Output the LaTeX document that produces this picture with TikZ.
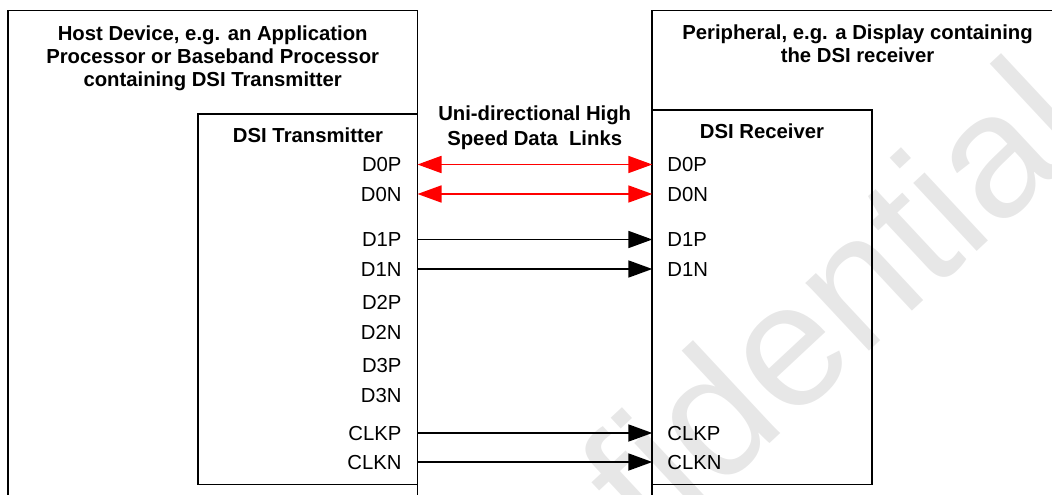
\documentclass[tikz,border=0pt]{standalone}
\usepackage{fontspec}
\setmainfont{Liberation Sans}
\usetikzlibrary{arrows.meta}
\definecolor{wmgray}{RGB}{231,231,231}
\definecolor{linkred}{RGB}{255,0,0}

\begin{document}
\begin{tikzpicture}[x=1pt,y=-1pt,
  frame/.style={draw=black,line width=1.7pt,inner sep=0pt,outer sep=0pt},
  title/.style={font=\bfseries\fontsize{20.3}{22.7}\selectfont,align=center,inner sep=0pt},
  pin/.style={font=\fontsize{20.3}{22.7}\selectfont,inner sep=0pt,text height=14.5pt,text depth=0pt},
  link/.style={line width=1.8pt,-{Triangle[length=24pt,width=17pt]}},
  redlink/.style={line width=1.8pt,draw=linkred,
    {Triangle[length=24pt,width=17pt]}-{Triangle[length=24pt,width=17pt]}},
  wmark/.style={text=wmgray,font=\fontsize{176}{176}\selectfont,inner sep=0pt}]

\useasboundingbox (0,0) rectangle (1052,495);

% background marking
\begin{scope}
  \clip (0,0) rectangle (1052,495);
  \node[wmark,anchor=base west,rotate=43] (mark) at (417,773) {Confidential};
\end{scope}

% enclosing devices (open towards the bottom)
\draw[frame] (8,497) -- (8,10.5) -- (417.5,10.5) -- (417.5,497);
\draw[frame] (652.3,497) -- (652.3,10.5) -- (1054,10.5);

% transmitter and receiver blocks
\node[frame,anchor=north west,minimum width=219.2pt,minimum height=370.5pt] (tx) at (198.3,114) {};
\node[frame,anchor=north west,minimum width=219.7pt,minimum height=374.5pt] (rx) at (652.3,110) {};

% titles (base anchor sits on the last line)
\node[title,anchor=base] (host) at (212.7,86)
  {Host Device, e.g. an Application\\Processor or Baseband Processor\\containing DSI Transmitter};
\node[title,anchor=base] (periph) at (857.5,62.5)
  {Peripheral, e.g. a Display containing\\the DSI receiver};
\node[title,anchor=base] (txname) at (308,142.7) {DSI Transmitter};
\node[title,anchor=base] (rxname) at (762,138.3) {DSI Receiver};
\node[title,anchor=base,font=\bfseries\fontsize{20.3}{24.3}\selectfont] (links) at (534.7,145)
  {Uni-directional High\\Speed Data\ \ Links};

% transmitter pins
\node[pin,anchor=east] (tD0P) at (401.7,164.5) {D0P};
\node[pin,anchor=east] (tD0N) at (401.7,194) {D0N};
\node[pin,anchor=east] (tD1P) at (401.7,239.5) {D1P};
\node[pin,anchor=east] (tD1N) at (401.7,269) {D1N};
\node[pin,anchor=east] (tD2P) at (401.7,302) {D2P};
\node[pin,anchor=east] (tD2N) at (401.7,332) {D2N};
\node[pin,anchor=east] (tD3P) at (401.7,365) {D3P};
\node[pin,anchor=east] (tD3N) at (401.7,395) {D3N};
\node[pin,anchor=east] (tCLKP) at (401.7,433) {CLKP};
\node[pin,anchor=east] (tCLKN) at (401.7,462) {CLKN};

% receiver pins
\node[pin,anchor=west] (rD0P) at (667.2,164.5) {D0P};
\node[pin,anchor=west] (rD0N) at (667.2,194) {D0N};
\node[pin,anchor=west] (rD1P) at (667.2,239.5) {D1P};
\node[pin,anchor=west] (rD1N) at (667.2,269) {D1N};
\node[pin,anchor=west] (rCLKP) at (667.2,433) {CLKP};
\node[pin,anchor=west] (rCLKN) at (667.2,462) {CLKN};

% links
\draw[redlink] (tx.east |- tD0P) -- (rx.west |- rD0P);
\draw[redlink] (tx.east |- tD0N) -- (rx.west |- rD0N);
\draw[link] (tx.east |- tD1P) -- (rx.west |- rD1P);
\draw[link] (tx.east |- tD1N) -- (rx.west |- rD1N);
\draw[link] (tx.east |- tCLKP) -- (rx.west |- rCLKP);
\draw[link] (tx.east |- tCLKN) -- (rx.west |- rCLKN);
\end{tikzpicture}
\end{document}
